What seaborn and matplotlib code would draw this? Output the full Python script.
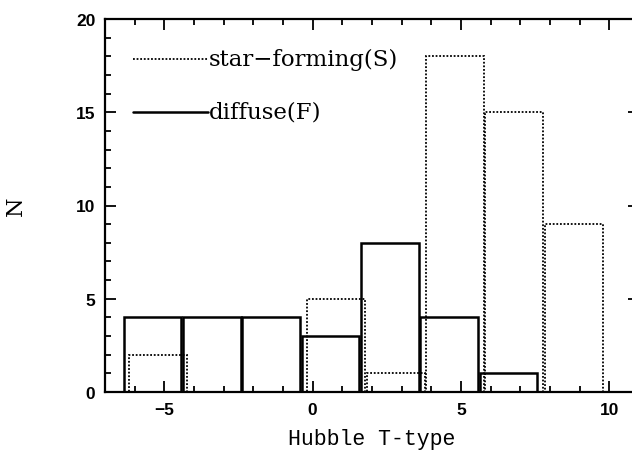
import numpy as np
import pandas as pd
import matplotlib
matplotlib.use("Agg")
import matplotlib.pyplot as plt
from matplotlib.ticker import MultipleLocator
import seaborn as sns

# =========================
# DATA
# =========================
t_type = np.array([-5, -3, -1, 1, 3, 5, 7, 9])
n_star_forming = np.array([2, 0, 0, 5, 1, 18, 15, 9])
n_diffuse = np.array([4, 4, 4, 3, 8, 4, 1, 0])
bin_width = 2

# bars of the two samples are drawn slightly shifted
shift_sf = -0.2
shift_df = -0.4

df = pd.DataFrame({"t_sf": t_type + shift_sf, "n_sf": n_star_forming,
                   "t_df": t_type + shift_df, "n_df": n_diffuse})

sns.set_style("ticks")
plt.rcParams["font.family"] = ["DejaVu Serif"]
plt.rcParams["text.color"] = "black"
plt.rcParams["axes.labelcolor"] = "black"

fig = plt.figure(figsize=(6.32, 4.52), dpi=100)
ax = fig.add_axes([105 / 632, 59 / 452, 534 / 632, 373 / 452])

edges = np.append(t_type - bin_width / 2, t_type[-1] + bin_width / 2)

sns.histplot(data=df, x="t_sf", weights="n_sf", bins=list(edges + shift_sf),
             shrink=0.975, fill=False, color="black", linewidth=1.3,
             linestyle=(0, (1, 1)), ax=ax)
sns.histplot(data=df, x="t_df", weights="n_df", bins=list(edges + shift_df),
             shrink=0.975, fill=False, color="black", linewidth=1.8, ax=ax)

ax.set_xlim(-7, 11)
ax.set_ylim(0, 20)
ax.xaxis.set_major_locator(MultipleLocator(5))
ax.xaxis.set_minor_locator(MultipleLocator(1))
ax.yaxis.set_major_locator(MultipleLocator(5))
ax.yaxis.set_minor_locator(MultipleLocator(1))
ax.tick_params(which="both", direction="in", top=True, right=True, width=1.3,
               colors="black")
ax.tick_params(which="major", length=8, pad=7)
ax.tick_params(which="minor", length=4)
for lab in ax.get_xticklabels() + ax.get_yticklabels():
    lab.set_fontfamily("Liberation Sans")
    lab.set_fontweight("bold")
    lab.set_fontsize(12.5)
for sp in ax.spines.values():
    sp.set_linewidth(1.6)
    sp.set_color("black")

ax.set_xlabel("Hubble T-type", fontsize=15.5, fontfamily="Liberation Mono")
ax.set_ylabel("N", fontsize=16, fontfamily="DejaVu Serif")
ax.xaxis.set_label_coords(0.5, -0.097)
ax.yaxis.set_label_coords(-0.146, 0.5)

# hand-drawn style legend
ax.plot([0.052, 0.193], [0.893, 0.893], transform=ax.transAxes, color="black",
        linewidth=1.3, linestyle=(0, (1, 1)))
ax.text(0.194, 0.893, "star\u2212forming(S)", transform=ax.transAxes,
        fontsize=16.5, va="center", ha="left")
ax.plot([0.052, 0.193], [0.751, 0.751], transform=ax.transAxes, color="black",
        linewidth=1.8)
ax.text(0.194, 0.751, "diffuse(F)", transform=ax.transAxes,
        fontsize=16.5, va="center", ha="left")

fig.savefig("out.png", dpi=100)
